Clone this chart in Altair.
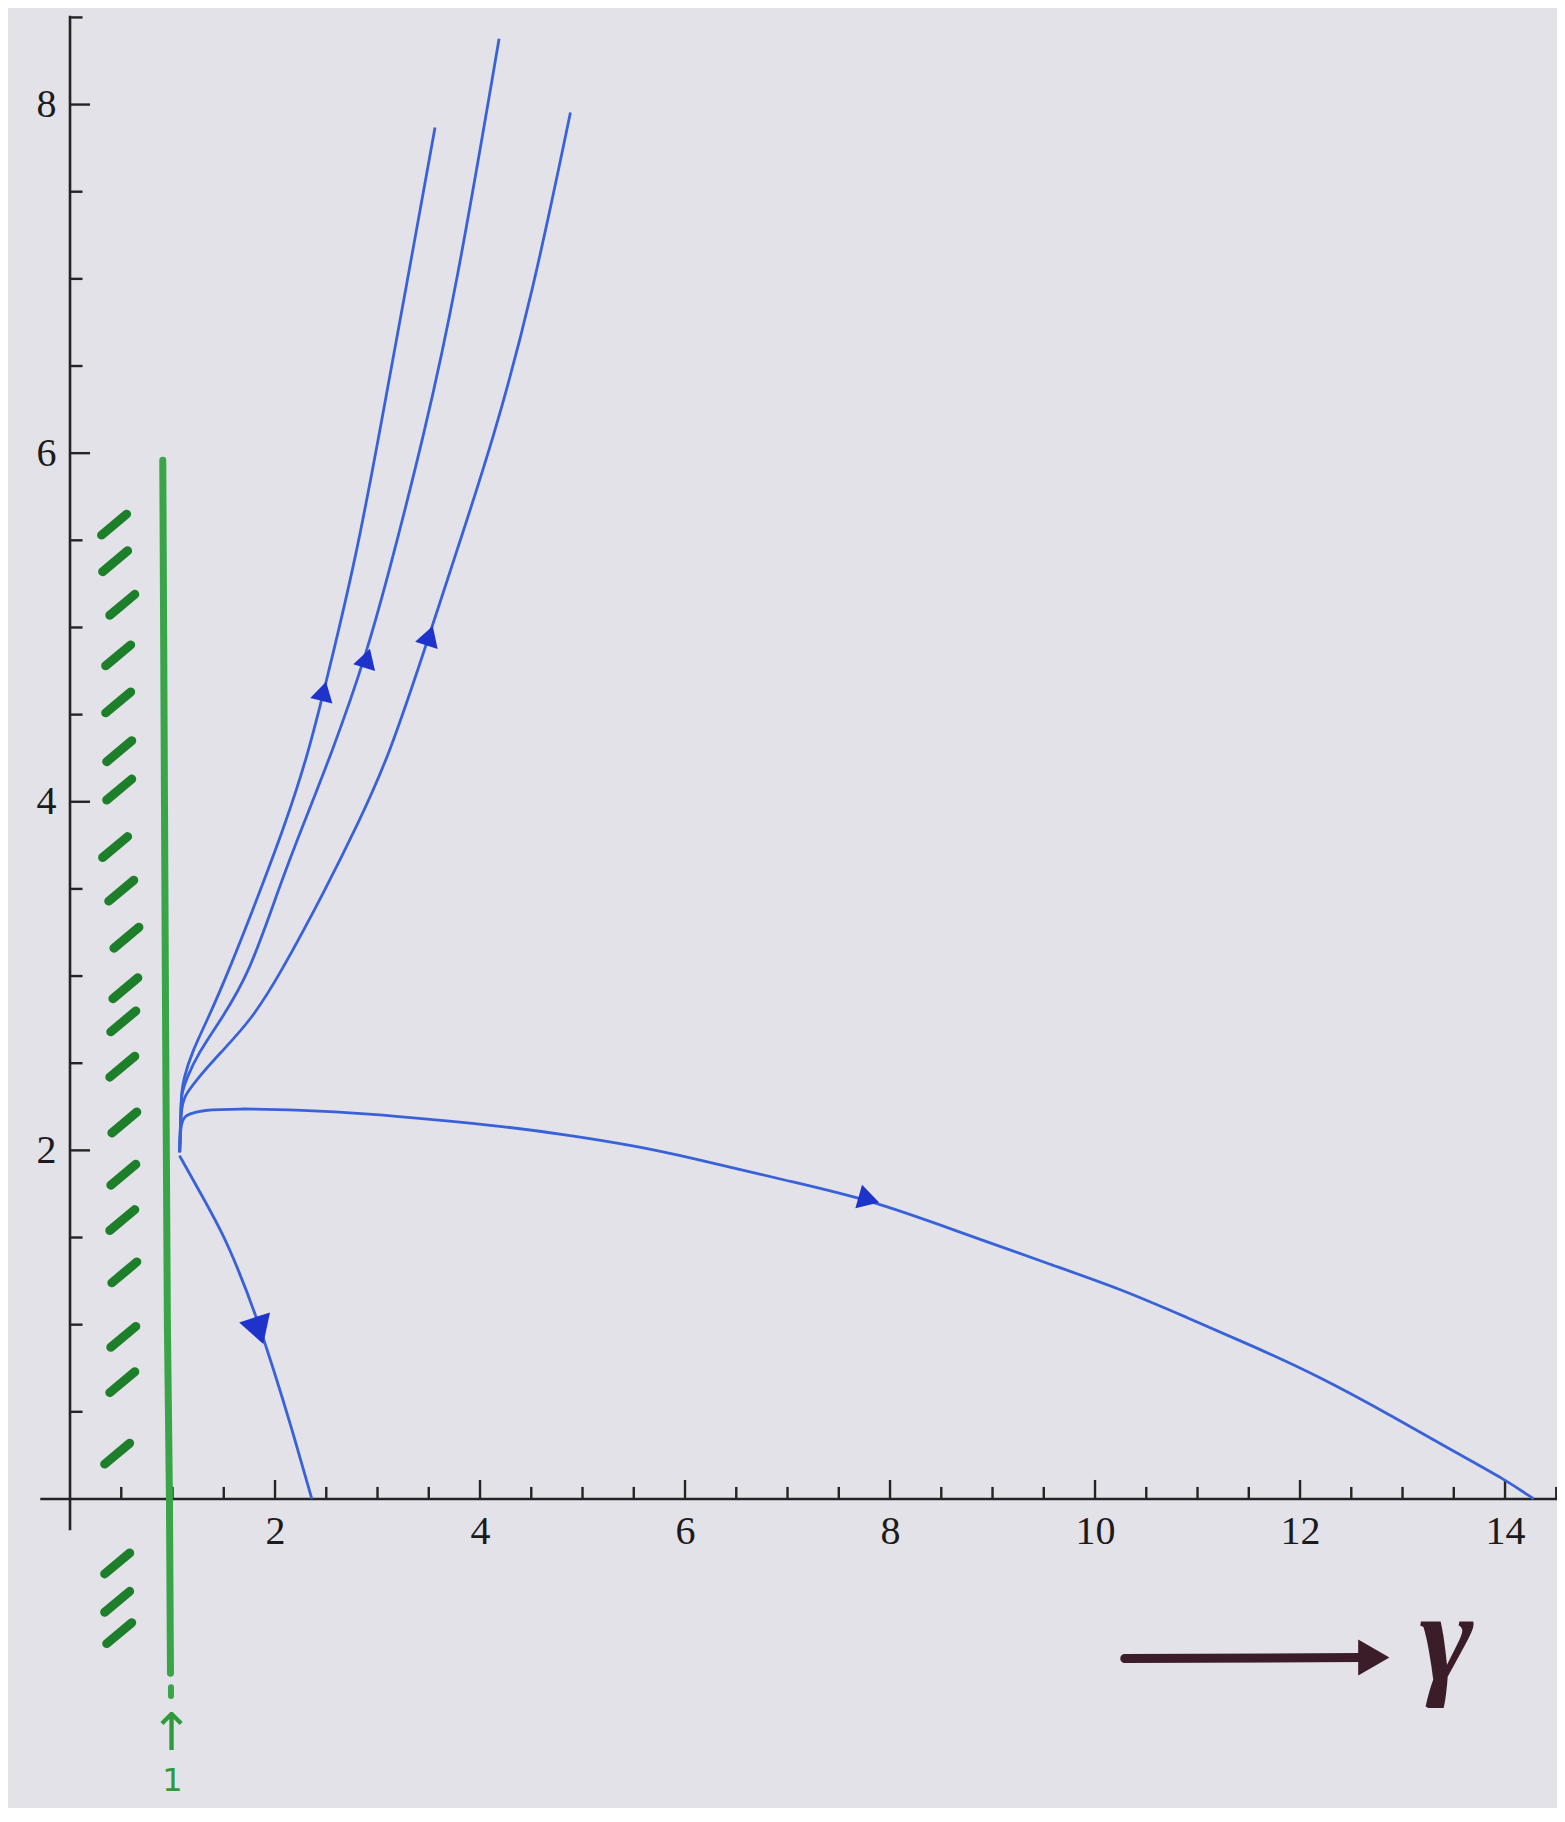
import altair as alt
import pandas as pd

# ---------------- data ----------------
# trajectories (blue), all leaving the point near (1.07, 2)
curve_A_x = [1.070, 1.083, 1.090, 1.107, 1.188, 1.342, 1.540, 1.870, 2.110, 2.320, 2.500, 2.794, 3.015, 3.270, 3.561]
curve_A_y = [1.989, 2.276, 2.333, 2.409, 2.562, 2.751, 3.016, 3.510, 3.889, 4.269, 4.687, 5.410, 6.104, 6.921, 7.869]

curve_B_x = [1.070, 1.083, 1.093, 1.134, 1.253, 1.472, 1.748, 2.038, 2.286, 2.545, 2.889, 3.152, 3.451, 3.761, 4.186]
curve_B_y = [1.989, 2.276, 2.333, 2.409, 2.560, 2.749, 3.013, 3.507, 3.886, 4.266, 4.835, 5.406, 6.099, 6.915, 8.377]

curve_C_x = [1.070, 1.083, 1.146, 1.237, 1.464, 1.764, 2.048, 2.496, 2.813, 3.111, 3.509, 3.750, 4.137, 4.510, 4.882]
curve_C_y = [1.989, 2.276, 2.333, 2.408, 2.558, 2.745, 3.009, 3.501, 3.879, 4.258, 4.961, 5.398, 6.090, 6.905, 7.954]

curve_D_x = [1.070, 1.078, 1.119, 1.158, 1.289, 1.615, 2.265, 2.915, 3.565, 4.214, 4.863, 5.511, 6.029,
             7.000, 7.794, 8.617, 9.585, 10.25, 10.90, 11.55, 12.21, 12.86, 13.51, 14.00, 14.28]
curve_D_y = [1.989, 2.150, 2.195, 2.208, 2.231, 2.240, 2.232, 2.210, 2.176, 2.139, 2.088, 2.026, 1.962,
             1.825, 1.718, 1.545, 1.341, 1.205, 1.040, 0.875, 0.696, 0.488, 0.270, 0.112, 0.000]

curve_E_x = [1.068, 1.271, 1.490, 1.644, 1.798, 1.981, 2.163, 2.359]
curve_E_y = [1.970, 1.757, 1.524, 1.312, 1.080, 0.753, 0.406, 0.000]

# direction arrows on the trajectories
arrow_x = [2.475, 2.898, 3.508, 7.794, 1.843]
arrow_y = [4.634, 4.824, 4.953, 1.718, 0.965]
arrow_angle = [14, 17, 18, 106, 162]
arrow_size = [520, 520, 560, 600, 1050]

# hand-drawn green boundary at gamma = 1 and its hatching
green_x = [0.905, 0.93, 0.95, 0.97, 0.98]
green_y = [5.96, 3.0, 1.0, 0.0, -1.00]
hatch_x = [0.43, 0.44, 0.51, 0.47, 0.47, 0.48, 0.48, 0.44, 0.50, 0.55, 0.54, 0.52, 0.51,
           0.53, 0.52, 0.51, 0.53, 0.52, 0.51, 0.46, 0.46, 0.46, 0.48]
hatch_y = [5.59, 5.38, 5.13, 4.84, 4.57, 4.29, 4.07, 3.74, 3.49, 3.22, 2.93, 2.74, 2.48,
           2.16, 1.86, 1.60, 1.30, 0.93, 0.67, 0.26, -0.37, -0.59, -0.77]

# axis ticks and labels
x_major = [2, 4, 6, 8, 10, 12, 14]
x_minor = [0.5, 1, 1.5, 2.5, 3, 3.5, 4.5, 5, 5.5, 6.5, 7, 7.5, 8.5, 9, 9.5,
           10.5, 11, 11.5, 12.5, 13, 13.5, 14.5]
y_major = [2, 4, 6, 8]
y_minor = [0.5, 1, 1.5, 2.5, 3, 3.5, 4.5, 5, 5.5, 6.5, 7, 7.5, 8.5]

# ---------------- styling constants ----------------
BG = "#e2e2e8"
AXIS_C = "#242424"
BLUE = "#3a62d8"
ARROW_BLUE = "#1d33c9"
GREEN_LINE = "#3aa548"
GREEN_HATCH = "#1d7f2a"
INK = "#3a1d28"

X0, X1 = -0.605, 14.507
Y0, Y1 = -1.773, 8.554
W, H = 1549, 1800

xs = alt.Scale(domain=[X0, X1], nice=False, zero=False)
ys = alt.Scale(domain=[Y0, Y1], nice=False, zero=False)

x_axis = alt.Axis(values=x_major, format="d", domain=False, ticks=False, tickSize=0, grid=False,
                  labelFont="Liberation Serif", labelFontSize=40, labelColor="#1b1b1b",
                  labelPadding=12, offset=-309, title="", labelFlush=False, labelOverlap=False)
y_axis = alt.Axis(values=y_major, format="d", domain=False, ticks=False, tickSize=0, grid=False,
                  labelFont="Liberation Serif", labelFontSize=40, labelColor="#1b1b1b",
                  labelPadding=14, offset=-62, title="", labelFlush=False, labelOverlap=False)


def X(field="x"):
    return alt.X(f"{field}:Q", scale=xs, axis=x_axis)


def Y(field="y"):
    return alt.Y(f"{field}:Q", scale=ys, axis=y_axis)


# ---------------- tables ----------------
rows = []
for name, cx, cy in [("A", curve_A_x, curve_A_y), ("B", curve_B_x, curve_B_y),
                     ("C", curve_C_x, curve_C_y), ("D", curve_D_x, curve_D_y),
                     ("E", curve_E_x, curve_E_y)]:
    for i, (a, b) in enumerate(zip(cx, cy)):
        rows.append({"curve": name, "order": i, "x": a, "y": b})
df_curves = pd.DataFrame(rows)

df_arrows = pd.DataFrame({"x": arrow_x, "y": arrow_y, "angle": arrow_angle, "size": arrow_size})

df_green = pd.DataFrame({"x": green_x, "y": green_y, "order": list(range(len(green_x)))})

HX, HY = 0.122, 0.06
df_hatch = pd.DataFrame({
    "x": [v - HX for v in hatch_x], "x2": [v + HX for v in hatch_x],
    "y": [v - HY for v in hatch_y], "y2": [v + HY for v in hatch_y],
})

df_axes = pd.DataFrame({"x": [-0.29, 0.0], "x2": [14.6, 0.0], "y": [0.0, -0.18], "y2": [0.0, 8.51]})

XT_MAJ, XT_MIN = 0.109, 0.069   # tick length along y (data units)
YT_MAJ, YT_MIN = 0.195, 0.122   # tick length along x (data units)
tick_rows = []
for v in x_major:
    tick_rows.append({"x": v, "x2": v, "y": 0.0, "y2": XT_MAJ})
for v in x_minor:
    tick_rows.append({"x": v, "x2": v, "y": 0.0, "y2": XT_MIN})
for v in y_major:
    tick_rows.append({"x": 0.0, "x2": YT_MAJ, "y": v, "y2": v})
for v in y_minor:
    tick_rows.append({"x": 0.0, "x2": YT_MIN, "y": v, "y2": v})
df_ticks = pd.DataFrame(tick_rows)

df_green_dash = pd.DataFrame({"x": [0.985], "x2": [0.985], "y": [-1.08], "y2": [-1.13]})
df_gamma_shaft = pd.DataFrame({"x": [10.29], "x2": [12.6], "y": [-0.915], "y2": [-0.91]})
df_gamma_head = pd.DataFrame({"x": [12.72], "y": [-0.91]})
df_gamma_text = pd.DataFrame({"x": [13.43], "y": [-1.036], "t": ["γ"]})
df_up = pd.DataFrame({"x": [0.99], "y": [-1.35], "t": ["↑"]})
df_one = pd.DataFrame({"x": [1.0], "y": [-1.53], "t": ["1"]})

# ---------------- layers ----------------
axes_lines = alt.Chart(df_axes).mark_rule(color=AXIS_C, strokeWidth=2.6).encode(
    x=X(), x2="x2", y=Y(), y2="y2")
ticks = alt.Chart(df_ticks).mark_rule(color=AXIS_C, strokeWidth=2.4).encode(
    x=X(), x2="x2", y=Y(), y2="y2")

green_line = alt.Chart(df_green).mark_line(color=GREEN_LINE, strokeWidth=7, strokeCap="round",
                                           interpolate="monotone").encode(
    x=X(), y=Y(), order="order:Q")
green_dash = alt.Chart(df_green_dash).mark_rule(color=GREEN_LINE, strokeWidth=6, strokeCap="round").encode(
    x=X(), x2="x2", y=Y(), y2="y2")
hatches = alt.Chart(df_hatch).mark_rule(color=GREEN_HATCH, strokeWidth=9, strokeCap="round").encode(
    x=X(), x2="x2", y=Y(), y2="y2")

curves = alt.Chart(df_curves).mark_line(color=BLUE, strokeWidth=2.8, interpolate="basis").encode(
    x=X(), y=Y(), detail="curve:N", order="order:Q")

arrows = alt.Chart(df_arrows).mark_point(shape="triangle-up", filled=True, color=ARROW_BLUE, opacity=1).encode(
    x=X(), y=Y(), angle=alt.Angle("angle:Q", scale=None), size=alt.Size("size:Q", scale=None))

gamma_shaft = alt.Chart(df_gamma_shaft).mark_rule(color=INK, strokeWidth=9, strokeCap="round").encode(
    x=X(), x2="x2", y=Y(), y2="y2")
gamma_head = alt.Chart(df_gamma_head).mark_point(shape="triangle-right", filled=True, color=INK,
                                                 size=1300, opacity=1).encode(x=X(), y=Y())
gamma_text = alt.Chart(df_gamma_text).mark_text(font="Liberation Serif", fontSize=130, fontStyle="italic",
                                                fontWeight="bold", color=INK, align="center",
                                                baseline="alphabetic").encode(x=X(), y=Y(), text="t:N")
up_text = alt.Chart(df_up).mark_text(font="DejaVu Sans", fontSize=52, color="#2f9a3c", align="center",
                                     baseline="middle").encode(x=X(), y=Y(), text="t:N")
one_text = alt.Chart(df_one).mark_text(font="DejaVu Sans", fontSize=32, color="#2f9a3c", align="center",
                                       baseline="top").encode(x=X(), y=Y(), text="t:N")

chart = alt.layer(
    axes_lines, ticks, green_line, green_dash, hatches, curves, arrows,
    gamma_shaft, gamma_head, gamma_text, up_text, one_text
).properties(
    width=W, height=H, autosize=alt.AutoSizeParams(type="none"), padding=0
).configure(
    background=BG
).configure_view(
    stroke=None
)

chart.save("out.html", embed_options={"renderer": "svg", "actions": False})
